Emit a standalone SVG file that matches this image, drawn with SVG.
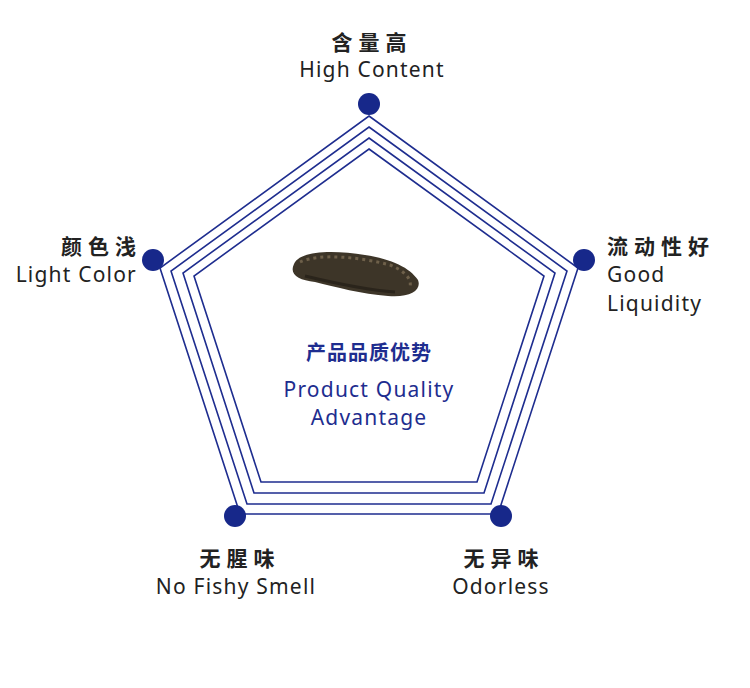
<svg xmlns="http://www.w3.org/2000/svg" width="750" height="688" viewBox="0 0 750 688">
<style>
.p{fill:none;stroke:#1e2d8f;stroke-width:1.6}
.d{fill:#17288a}
.cn{font-family:"Noto Sans CJK SC",sans-serif;font-size:21px;fill:#222;font-weight:bold;letter-spacing:6px}
.en{font-family:"Noto Sans","Open Sans",sans-serif;font-size:21px;fill:#222;letter-spacing:1.2px}
.bc{font-family:"Noto Sans CJK SC",sans-serif;font-size:20px;fill:#1e2d8f;font-weight:bold;letter-spacing:1px}
.be{font-family:"Noto Sans",sans-serif;font-size:21px;fill:#1e2d8f;letter-spacing:1.2px}
</style>
<rect width="750" height="688" fill="#fff"/>
<g id="connectors">
<polygon class="p" points="369,116 578,268 498,514 240,514 160,268"/>
<polygon class="p" points="369,127 567,271 491,504 247,504 171,271"/>
<polygon class="p" points="369,138 555,273 484,493 254,493 183,273"/>
<polygon class="p" points="369,149 544,276 477,482 261,482 194,276"/>
</g>
<g id="center">
<path d="M294,264 C300,250 335,250 365,255 C392,259 410,268 418,280 C422,290 410,298 388,296 C362,294 335,287 315,282 C298,280 289,274 294,264 Z" fill="#3d3528"/>
<path d="M300,262 C320,253 360,257 390,265 C405,271 412,279 410,287" fill="none" stroke="#6e604a" stroke-width="3" stroke-dasharray="3 4"/>
<path d="M305,276 C330,282 365,290 395,292" fill="none" stroke="#2a241b" stroke-width="3"/>
<text class="bc" x="369" y="360" text-anchor="middle">产品品质优势</text>
<text class="be" x="369" y="397" text-anchor="middle">Product Quality</text>
<text class="be" x="369" y="425" text-anchor="middle">Advantage</text>
</g>
<g id="n1"><circle class="d" cx="369" cy="104" r="11"/>
<text class="cn" x="372" y="50" text-anchor="middle">含量高</text>
<text class="en" x="372" y="77" text-anchor="middle">High Content</text></g>
<g id="n2"><circle class="d" cx="584" cy="260" r="11"/>
<text class="cn" x="607" y="254">流动性好</text>
<text class="en" x="607" y="282">Good</text>
<text class="en" x="607" y="311">Liquidity</text></g>
<g id="n3"><circle class="d" cx="501" cy="516" r="11"/>
<text class="cn" x="504" y="566" text-anchor="middle">无异味</text>
<text class="en" x="501" y="594" text-anchor="middle">Odorless</text></g>
<g id="n4"><circle class="d" cx="235" cy="516" r="11"/>
<text class="cn" x="240" y="566" text-anchor="middle">无腥味</text>
<text class="en" x="236" y="594" text-anchor="middle">No Fishy Smell</text></g>
<g id="n5"><circle class="d" cx="153" cy="260" r="11"/>
<text class="cn" x="142" y="254" text-anchor="end">颜色浅</text>
<text class="en" x="137" y="282" text-anchor="end">Light Color</text></g>
</svg>
